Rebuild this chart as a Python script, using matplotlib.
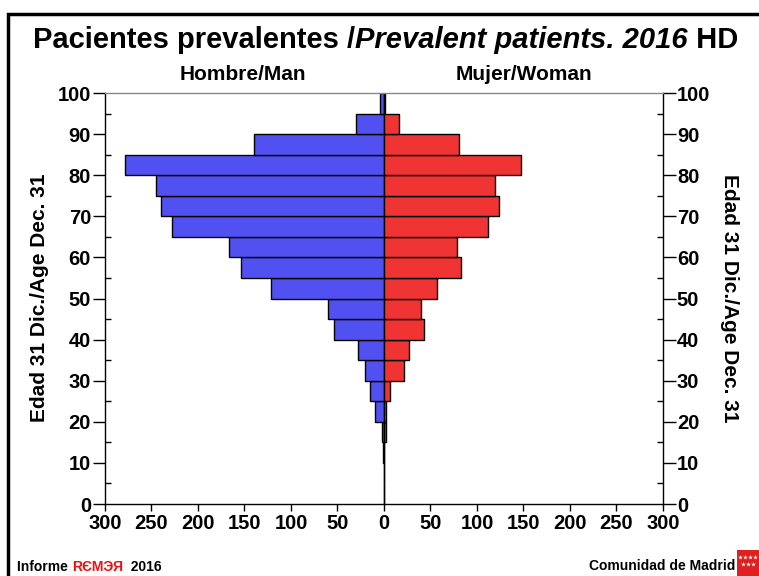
import matplotlib.pyplot as plt
from matplotlib.patches import Rectangle
from matplotlib.ticker import MultipleLocator, FuncFormatter

plt.rcParams["font.family"] = ["Liberation Sans", "DejaVu Sans"]
plt.rcParams["font.weight"] = "bold"

# 5-year age bins (lower edge)
age_bins = [0, 5, 10, 15, 20, 25, 30, 35, 40, 45, 50, 55, 60, 65, 70, 75, 80, 85, 90, 95]
men = [0.5, 0.5, 1, 2, 10, 15, 20, 28, 54, 60, 122, 154, 167, 228, 240, 245, 279, 140, 30, 4]
women = [0.5, 0.5, 0.5, 2, 2, 6, 22, 27, 43, 40, 57, 83, 78, 112, 124, 119, 147, 81, 16, 1]

BLUE = "#5151f2"
RED = "#f03434"


def main():
    fig = plt.figure(figsize=(7.59, 5.76), dpi=100)
    ax = fig.add_axes([0.1383, 0.125, 0.7352, 0.7135])

    ax.barh(age_bins, [-m for m in men], height=5, align="edge",
            color=BLUE, edgecolor="black", linewidth=1)
    ax.barh(age_bins, women, height=5, align="edge",
            color=RED, edgecolor="black", linewidth=1)

    ax.set_xlim(-300, 300)
    ax.set_ylim(0, 100)
    ax.xaxis.set_major_locator(MultipleLocator(50))
    ax.xaxis.set_major_formatter(FuncFormatter(lambda v, p: f"{abs(int(v))}"))
    ax.yaxis.set_major_locator(MultipleLocator(10))
    ax.yaxis.set_minor_locator(MultipleLocator(5))

    ax.tick_params(axis="x", direction="out", length=5, width=1, labelsize=14.5, pad=2)
    ax.tick_params(axis="y", which="major", direction="out", length=9, width=1,
                   labelsize=14.5, left=True, right=True, labelleft=True, labelright=True, pad=1)
    ax.tick_params(axis="y", which="minor", direction="in", length=4, width=1,
                   left=True, right=True)
    for lab in ax.get_xticklabels() + ax.get_yticklabels():
        lab.set_fontweight("bold")
    for s in ax.spines.values():
        s.set_linewidth(1)
    ax.spines["top"].set_color("#888888")

    # frame around the slide
    fig.patches.append(Rectangle((8 / 759, -0.1), 1.2, 1 - 14 / 576 + 0.1,
                                 transform=fig.transFigure, fill=False,
                                 edgecolor="black", linewidth=2.5))

    # title with mixed styles
    ty = 1 - 40 / 576
    t1 = fig.text(33 / 759, ty, "Pacientes prevalentes /", fontsize=21,
                  fontweight="bold", va="center", ha="left")
    fig.canvas.draw()
    r = fig.canvas.get_renderer()
    bb = t1.get_window_extent(r)
    t2 = fig.text(bb.x1 / fig.bbox.width, ty, "Prevalent patients. 2016", fontsize=21,
                  fontweight="bold", style="italic", va="center", ha="left")
    bb2 = t2.get_window_extent(r)
    fig.text(bb2.x1 / fig.bbox.width, ty, " HD", fontsize=21,
             fontweight="bold", va="center", ha="left")

    fig.text(243 / 759, 1 - 75 / 576, "Hombre/Man", fontsize=15, fontweight="bold",
             ha="center", va="center")
    fig.text(524 / 759, 1 - 75 / 576, "Mujer/Woman", fontsize=15, fontweight="bold",
             ha="center", va="center")

    fig.text(40 / 759, 1 - 298 / 576, "Edad 31 Dic./Age Dec. 31", fontsize=15,
             fontweight="bold", rotation=90, ha="center", va="center")
    fig.text(730 / 759, 1 - 298 / 576, "Edad 31 Dic./Age Dec. 31", fontsize=15,
             fontweight="bold", rotation=-90, ha="center", va="center")

    # footer
    fy = 1 - 567 / 576
    f1 = fig.text(17 / 759, fy, "Informe ", fontsize=10, fontweight="bold",
                  ha="left", va="center")
    fig.canvas.draw()
    b = f1.get_window_extent(r)
    f2 = fig.text(b.x1 / fig.bbox.width, fy, "RЄMЭЯ", fontsize=10,
                  fontweight="bold", color="#ee1111", ha="left", va="center")
    b2 = f2.get_window_extent(r)
    fig.text(b2.x1 / fig.bbox.width, fy, "  2016", fontsize=10,
             fontweight="bold", ha="left", va="center")

    fig.text(735 / 759, 1 - 566 / 576, "Comunidad de Madrid", fontsize=10,
             fontweight="bold", ha="right", va="center")
    logo = fig.add_axes([737 / 759, 0, 22 / 759, 26 / 576])
    logo.set_facecolor("#e02020")
    logo.set_xlim(0, 1)
    logo.set_ylim(0, 1)
    logo.scatter([0.15, 0.38, 0.61, 0.84], [0.72] * 4, marker="*", s=12, color="white", lw=0)
    logo.scatter([0.27, 0.5, 0.73], [0.45] * 3, marker="*", s=12, color="white", lw=0)
    logo.set_xticks([])
    logo.set_yticks([])
    for s in logo.spines.values():
        s.set_visible(False)

    fig.savefig("out.png", dpi=100)
    plt.close(fig)


if __name__ == "__main__":
    main()
